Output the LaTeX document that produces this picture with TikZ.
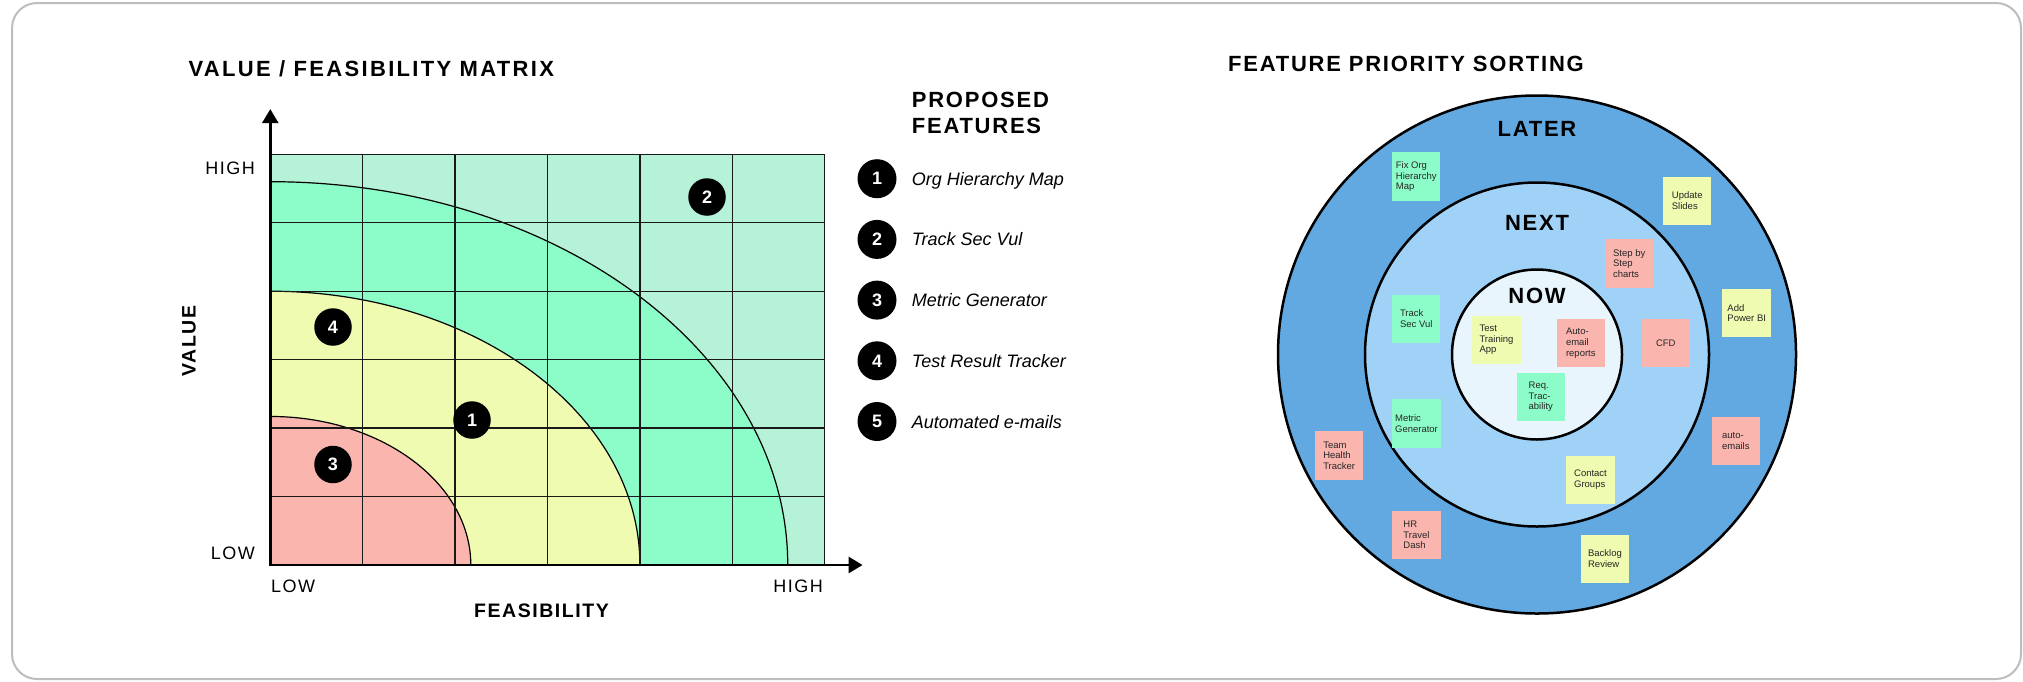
\documentclass[tikz,border=0pt]{standalone}
\usepackage{fontspec}
\setmainfont{Liberation Sans}
\newfontfamily\headfont[LetterSpace=8]{Liberation Sans}
\newfontfamily\titlefont[LetterSpace=10.5]{Liberation Sans}
\usetikzlibrary{arrows.meta,positioning,calc}
\definecolor{cTeal}{HTML}{B6F2D7}
\definecolor{cMint}{HTML}{8CFDC8}
\definecolor{cLime}{HTML}{EEFBB0}
\definecolor{cRose}{HTML}{FAB5AE}
\definecolor{cLater}{HTML}{62A9E1}
\definecolor{cNext}{HTML}{9FD2F6}
\definecolor{cNow}{HTML}{E9F5FD}
\definecolor{cFrame}{HTML}{BDBDBD}
\tikzset{
  frame/.style  ={draw=cFrame, line width=2pt, rounded corners=25pt},
  head/.style   ={font=\headfont\bfseries\fontsize{22}{25.7}\selectfont, inner sep=0pt},
  axlbl/.style  ={font=\headfont\bfseries\fontsize{19.5}{22}\selectfont, inner sep=0pt},
  tick/.style   ={font=\headfont\fontsize{18}{20}\selectfont, inner sep=0pt},
  cell/.style   ={draw=black!90, line width=1.4pt, step=1},
  zone/.style   ={draw=black, line width=1.2pt},
  axis/.style   ={line width=2.75pt, {Triangle[length=14pt,width=16pt]}-{Triangle[length=14pt,width=16pt]}},
  badge/.style  ={circle, fill=black, text=white, inner sep=0pt, minimum size=37.5pt,
                  font=\bfseries\fontsize{18}{18}\selectfont},
  item/.style   ={font=\itshape\fontsize{18}{20}\selectfont, inner sep=0pt, text depth=0pt},
  ring/.style   ={draw=black, line width=2.5pt},
  ringlbl/.style={font=\headfont\bfseries\fontsize{22}{24}\selectfont, inner sep=0pt},
  sticky/.style ={rectangle, minimum size=48.5pt, inner sep=0pt, align=left,
                  text=black!85, font=\fontsize{9.5}{10.7}\selectfont},
}

\begin{document}
\begin{tikzpicture}[x=1pt, y=-1pt]
  \useasboundingbox (0,0) rectangle (2023,681);
  \fill[white] (0,0) rectangle (2023,681);
  \draw[frame] (12,3) rectangle (2021,679);

  % value / feasibility matrix
  \node[head, font=\titlefont\bfseries\fontsize{22}{25.7}\selectfont, anchor=west] (mtitle)
    at (188.4,68.4) {VALUE / FEASIBILITY MATRIX};
  \begin{scope}[shift={(270.3,565)}, x=92.4pt, y=68.45pt]
    \begin{scope}
      \clip (0,0) rectangle (6,6);
      \fill[cTeal] (0,0) rectangle (6,6);
      \fill[cMint] (0,0) circle[radius=5.6];
      \fill[cLime] (0,0) circle[radius=4];
      \fill[cRose] (0,0) circle[radius=2.17];
      \draw[zone] (0,0) circle[radius=5.6] (0,0) circle[radius=4] (0,0) circle[radius=2.17];
    \end{scope}
    \draw[cell] (0,0) grid (6,6);
    \coordinate (org) at (0,0);
    \coordinate (ytip) at (0,6.66);
    \coordinate (xtip) at (6.41,0);
  \end{scope}
  \draw[axis] (ytip) -- (org) -- (xtip);

  \node[tick, anchor=east] (yhigh) at (255,168) {HIGH};
  \node[tick, anchor=east] (ylow) at (255,553.5) {LOW};
  \node[tick, anchor=west] (xlow) at (271,586) {LOW};
  \node[tick, anchor=east] (xhigh) at (823,586) {HIGH};
  \node[axlbl, rotate=90] (vlab) at (189,341) {VALUE};
  \node[axlbl] (flab) at (541.5,610.7) {FEASIBILITY};

  \node[badge] (m2) at (707,197) {2};
  \node[badge] (m4) at (333,327) {4};
  \node[badge] (m1) at (472,420) {1};
  \node[badge] (m3) at (333,464.5) {3};

  % legend
  \node[head, anchor=north west, align=left] (prop) at (911.7,92) {PROPOSED\\FEATURES};
  \node[badge, minimum size=39pt] (n1) at (877,178.7) {1};
  \node[badge, minimum size=39pt, below=21.3pt of n1] (n2) {2};
  \node[badge, minimum size=39pt, below=21.3pt of n2] (n3) {3};
  \node[badge, minimum size=39pt, below=21.3pt of n3] (n4) {4};
  \node[badge, minimum size=39pt, below=21.3pt of n4] (n5) {5};
  \node[item, right=15pt of n1] (t1) {Org Hierarchy Map};
  \node[item, right=15pt of n2] (t2) {Track Sec Vul};
  \node[item, right=15pt of n3] (t3) {Metric Generator};
  \node[item, right=15pt of n4] (t4) {Test Result Tracker};
  \node[item, right=15pt of n5] (t5) {Automated e-mails};

  % feature priority sorting
  \node[head, anchor=west] (ftitle) at (1228,63.5) {FEATURE PRIORITY SORTING};
  \coordinate (ctr) at (1537,354.5);
  \draw[ring, fill=cLater] (ctr) circle[radius=259pt];
  \draw[ring, fill=cNext] (ctr) circle[radius=172pt];
  \draw[ring, fill=cNow] (ctr) circle[radius=85pt];
  \node[ringlbl] (later) at (1537,129.3) {LATER};
  \node[ringlbl] (next) at (1537,223.3) {NEXT};
  \node[ringlbl] (now) at (1537,296) {NOW};

  \node[sticky, fill=cMint] (fixorg) at (1416.2,176.7) {Fix Org\\Hierarchy\\Map};
  \node[sticky, fill=cLime] (slides) at (1687.2,200.8) {Update\\Slides};
  \node[sticky, fill=cRose] (steps) at (1629.2,263.5) {Step by\\Step\\charts};
  \node[sticky, fill=cMint] (secvul) at (1416.2,318.8) {Track\\Sec Vul};
  \node[sticky, fill=cLime] (trainapp) at (1496.5,339.8) {Test\\Training\\App};
  \node[sticky, fill=cRose] (autorep) at (1580.8,343.2) {Auto-\\email\\reports};
  \node[sticky, fill=cRose] (cfd) at (1665.8,343.2) {CFD};
  \node[sticky, fill=cLime] (powerbi) at (1746.7,313.2) {Add\\Power BI};
  \node[sticky, fill=cMint] (reqtrac) at (1540.8,396.8) {Req.\\Trac-\\ability};
  \node[sticky, fill=cMint] (metric) at (1416.5,423.5) {Metric\\Generator};
  \node[sticky, fill=cRose] (health) at (1339.2,455.5) {Team\\Health\\Tracker};
  \node[sticky, fill=cRose] (automail) at (1735.8,441.2) {auto-\\emails};
  \node[sticky, fill=cLime] (contact) at (1590.5,479.8) {Contact\\Groups};
  \node[sticky, fill=cRose] (hrdash) at (1416.5,534.8) {HR\\Travel\\Dash};
  \node[sticky, fill=cLime] (backlog) at (1605,558.8) {Backlog\\Review};
\end{tikzpicture}
\end{document}
